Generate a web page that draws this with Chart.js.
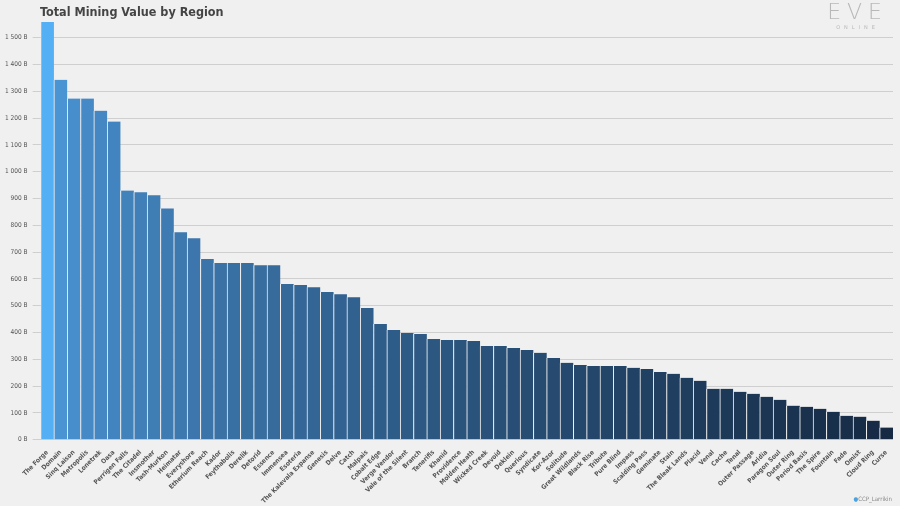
<!DOCTYPE html>
<html><head><meta charset="utf-8">
<script src="https://cdn.jsdelivr.net/npm/chart.js@4/dist/chart.umd.min.js"></script>
<style>
html,body{margin:0;padding:0;background:#f0f0f0;width:900px;height:506px;overflow:hidden;font-family:"DejaVu Sans Condensed",sans-serif}
#t{position:absolute;left:40px;top:4px;font-size:12.5px;font-weight:bold;color:#444;font-family:"DejaVu Sans Condensed",sans-serif}
#logo{position:absolute;right:12px;top:0px;color:#b8b8b8;font-family:"DejaVu Sans";text-align:center}
#logo .a{font-size:22px;letter-spacing:6px;font-weight:300;line-height:24px}
#logo .b{font-size:5px;letter-spacing:4px}
#f{position:absolute;right:8px;bottom:4px;font-size:6px;color:#888}
#w{position:absolute;left:0;top:0;width:900px;height:506px}
</style></head><body>
<div id="w"><canvas id="c" width="900" height="506"></canvas></div>
<div id="t">Total Mining Value by Region</div>
<div id="logo"><div class="a">EVE</div><div class="b">ONLINE</div></div>
<div id="f"><span style="color:#4aa3df">&#9679;</span>CCP_Larrikin</div>
<script>
const categories=["The Forge","Domain","Sinq Laison","Metropolis","Lonetrek","Oasa","Perrigen Falls","The Citadel","Insmother","Tash-Murkon","Heimatar","Everyshore","Etherium Reach","Kador","Feythabolis","Derelik","Detorid","Essence","Immensea","Esoteria","The Kalevala Expanse","Genesis","Delve","Catch","Malpais","Cobalt Edge","Verge Vendor","Vale of the Silent","Branch","Tenerifis","Khanid","Providence","Molden Heath","Wicked Creek","Devoid","Deklein","Querious","Syndicate","Kor-Azor","Solitude","Great Wildlands","Black Rise","Tribute","Pure Blind","Impass","Scalding Pass","Geminate","Stain","The Bleak Lands","Placid","Venal","Cache","Tenal","Outer Passage","Aridia","Paragon Soul","Outer Ring","Period Basis","The Spire","Fountain","Fade","Omist","Cloud Ring","Curse"];
const values=[1559,1343,1273,1273,1228,1187,930,923,912,863,774,752,674,659,659,659,651,651,581,577,569,551,543,532,491,432,409,398,394,376,372,372,368,350,350,342,335,324,305,287,279,275,275,275,268,264,253,246,231,220,190,190,179,171,160,149,127,123,115,104,89,86,71,45];
const yTicks=[0,100,200,300,400,500,600,700,800,900,1000,1100,1200,1300,1400,1500];
const n=values.length;
function col(i){
  if(i===0) return '#55aff5';
  const t=(i-1)/(n-2);
  const a=[74,148,212], b=[22,42,68];
  return `rgb(${a.map((v,k)=>Math.round(v+(b[k]-v)*Math.pow(t,0.7))).join(',')})`;
}
const ff='"DejaVu Sans Condensed",sans-serif';
new Chart(document.getElementById('c'),{type:'bar',
data:{labels:categories,datasets:[{data:values,backgroundColor:values.map((v,i)=>col(i)),borderColor:'#f0f0f0',borderWidth:{left:1,right:0,top:0,bottom:0},borderSkipped:false,barPercentage:1,categoryPercentage:1}]},
options:{responsive:false,animation:false,devicePixelRatio:1,
layout:{padding:{left:0,right:7,top:19,bottom:0}},
plugins:{legend:{display:false},tooltip:{enabled:false}},
scales:{
x:{grid:{display:false},border:{display:false},ticks:{autoSkip:false,maxRotation:45,minRotation:45,color:'#555',font:{size:6.5,weight:'bold',family:ff},padding:1}},
y:{min:0,max:1570,afterBuildTicks:s=>{s.ticks=yTicks.map(v=>({value:v}))},grid:{color:'#cfcfcf'},border:{display:false},
ticks:{color:'#555',font:{size:6.5,family:ff},callback:v=>(v>=1000?Math.floor(v/1000)+' '+String(v%1000).padStart(3,'0'):v)+' B',padding:5}}
}}});
</script>
</body></html>
